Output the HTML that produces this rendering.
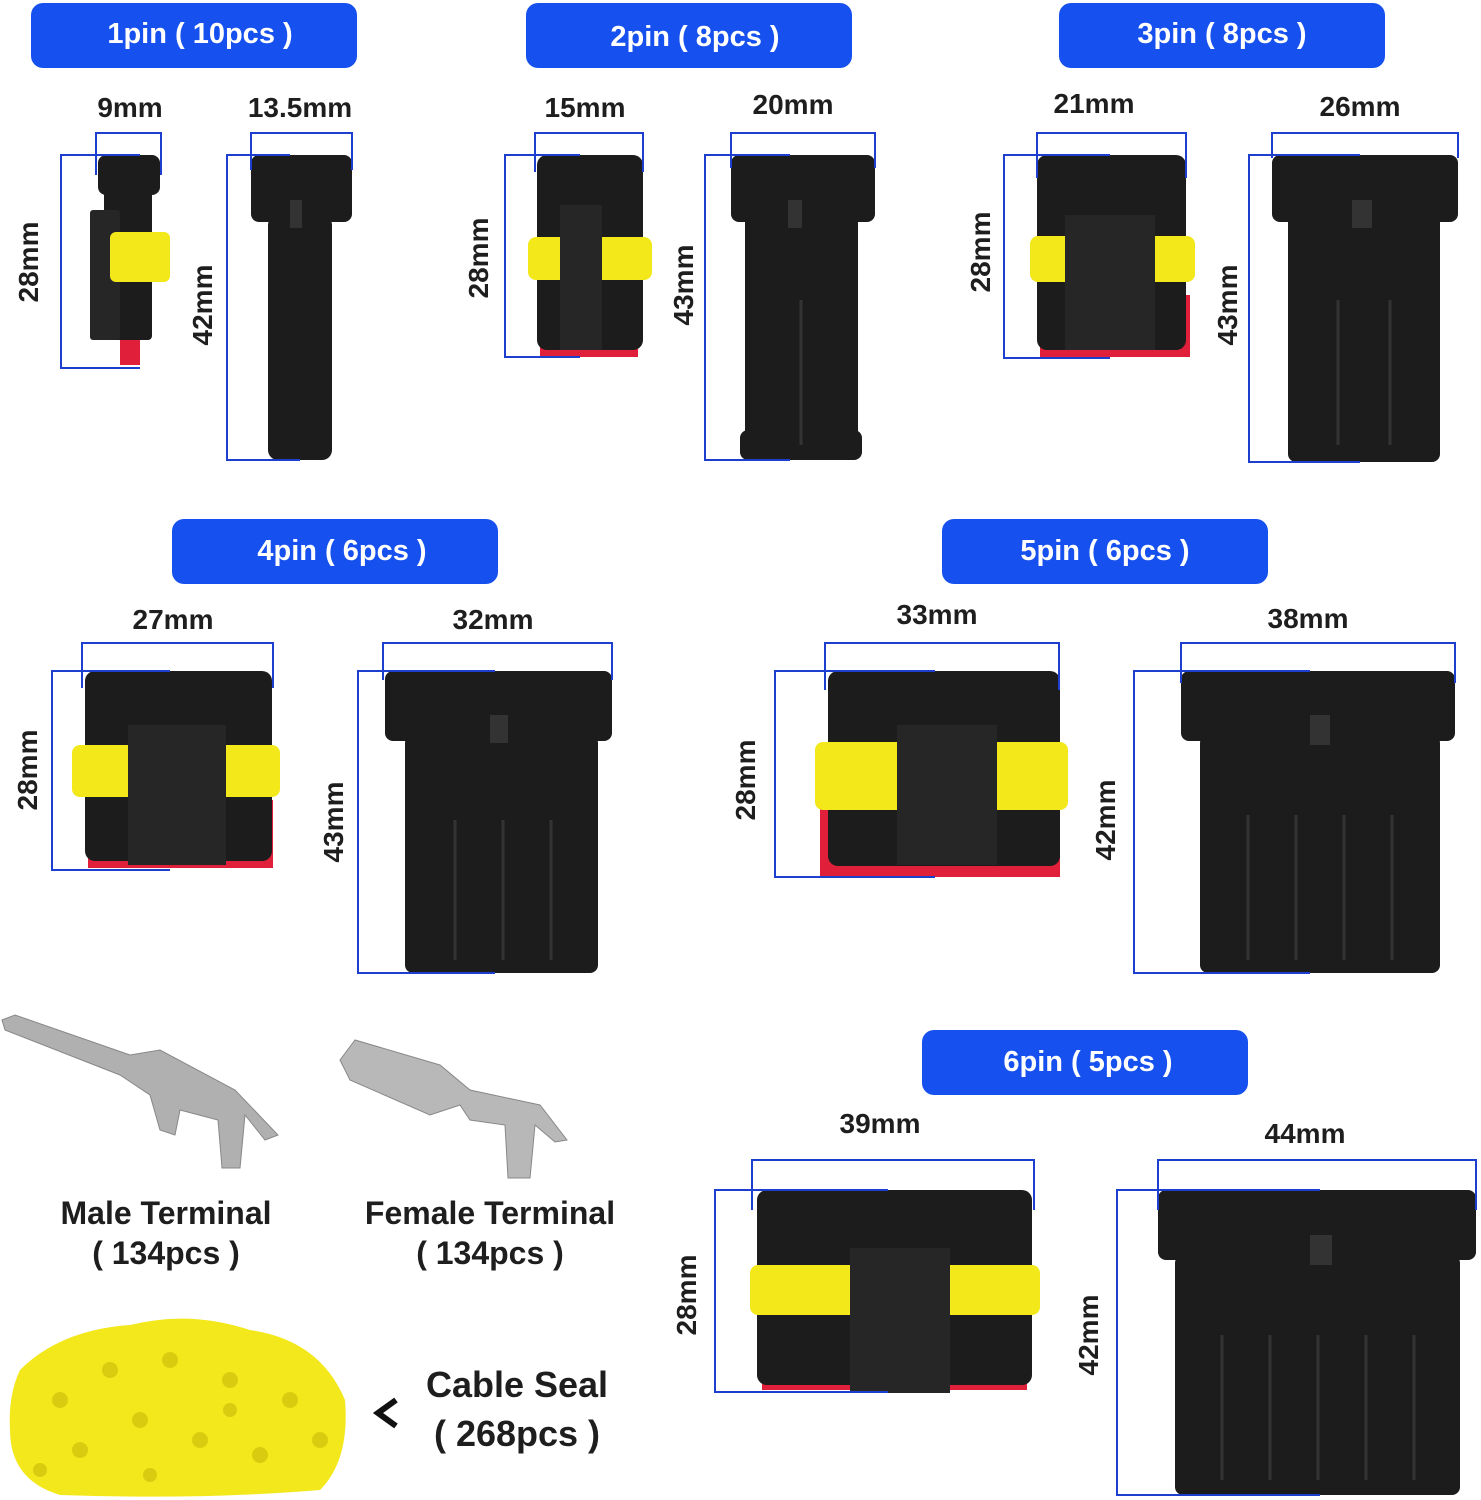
<!DOCTYPE html>
<html><head><meta charset="utf-8"><style>
html,body{margin:0;padding:0;background:#fff}
svg{display:block}
text{font-family:"Liberation Sans",sans-serif;font-weight:bold}
.p{fill:#fff;font-size:29px}
.d{fill:#1e1e1e;font-size:28px}
.t{fill:#1e1e1e;font-size:32px}
.b{fill:none;stroke:#1d3fd0;stroke-width:2}
.k{fill:#1c1c1c}
.k2{fill:#262626}
.y{fill:#f2e81a}
.r{fill:#e0203a}
.g{stroke:#333;stroke-width:3}
</style></head><body>
<svg width="1481" height="1500" viewBox="0 0 1481 1500" xmlns="http://www.w3.org/2000/svg">
<g fill="#1650ee">
<rect x="31" y="3" width="326" height="65" rx="12"/>
<rect x="526" y="3" width="326" height="65" rx="12"/>
<rect x="1059" y="3" width="326" height="65" rx="12"/>
<rect x="172" y="519" width="326" height="65" rx="12"/>
<rect x="942" y="519" width="326" height="65" rx="12"/>
<rect x="922" y="1030" width="326" height="65" rx="12"/>
</g>
<g class="p" text-anchor="middle">
<text x="200" y="43">1pin ( 10pcs )</text>
<text x="695" y="46">2pin ( 8pcs )</text>
<text x="1222" y="43">3pin ( 8pcs )</text>
<text x="342" y="560">4pin ( 6pcs )</text>
<text x="1105" y="560">5pin ( 6pcs )</text>
<text x="1088" y="1071">6pin ( 5pcs )</text>
</g>

<rect class="k" x="98" y="155" width="62" height="40" rx="8"/>
<rect class="k" x="104" y="190" width="48" height="150" rx="4"/>
<rect class="k2" x="90" y="210" width="30" height="130" rx="3"/>
<rect class="y" x="110" y="232" width="60" height="50" rx="6"/>
<rect class="r" x="120" y="340" width="20" height="25"/>
<rect class="k" x="251" y="155" width="101" height="67" rx="8"/>
<rect class="k" x="268" y="215" width="64" height="245" rx="10"/>
<rect class="r" x="540" y="290" width="98" height="67"/>
<rect class="k" x="537" y="155" width="106" height="195" rx="10"/>
<rect class="y" x="528" y="237" width="124" height="43" rx="8"/>
<rect class="k2" x="560" y="205" width="42" height="145"/>
<rect class="k" x="731" y="155" width="144" height="67" rx="8"/>
<rect class="k" x="745" y="215" width="113" height="230" rx="6"/>
<rect class="k" x="740" y="430" width="122" height="30" rx="8"/>
<rect class="r" x="1040" y="295" width="150" height="62"/>
<rect class="k" x="1037" y="155" width="149" height="195" rx="10"/>
<rect class="y" x="1030" y="236" width="165" height="46" rx="8"/>
<rect class="k2" x="1065" y="215" width="90" height="135"/>
<rect class="k" x="1272" y="155" width="186" height="67" rx="8"/>
<rect class="k" x="1288" y="215" width="152" height="247" rx="8"/>
<rect class="r" x="88" y="800" width="185" height="68"/>
<rect class="k" x="85" y="671" width="187" height="190" rx="10"/>
<rect class="y" x="72" y="745" width="208" height="52" rx="8"/>
<rect class="k2" x="128" y="725" width="98" height="140"/>
<rect class="k" x="385" y="671" width="227" height="70" rx="8"/>
<rect class="k" x="405" y="735" width="193" height="238" rx="8"/>
<rect class="r" x="820" y="805" width="240" height="72"/>
<rect class="k" x="828" y="671" width="232" height="195" rx="10"/>
<rect class="y" x="815" y="742" width="253" height="68" rx="8"/>
<rect class="k2" x="897" y="725" width="100" height="140"/>
<rect class="k" x="1181" y="671" width="274" height="70" rx="8"/>
<rect class="k" x="1200" y="735" width="240" height="238" rx="8"/>
<rect class="r" x="762" y="1315" width="265" height="75"/>
<rect class="k" x="757" y="1190" width="275" height="195" rx="10"/>
<rect class="y" x="750" y="1265" width="290" height="50" rx="8"/>
<rect class="k2" x="850" y="1248" width="100" height="145"/>
<rect class="k" x="1158" y="1190" width="318" height="70" rx="8"/>
<rect class="k" x="1175" y="1255" width="285" height="240" rx="8"/>

<!-- grooves on male connectors -->
<g class="g">
<path d="M801 300V445"/>
<path d="M1338 300V445M1390 300V445"/>
<path d="M455 820V960M503 820V960M551 820V960"/>
<path d="M1248 815V960M1296 815V960M1344 815V960M1392 815V960"/>
<path d="M1222 1335V1480M1270 1335V1480M1318 1335V1480M1366 1335V1480M1414 1335V1480"/>
</g>
<g fill="#333">
<rect x="290" y="200" width="12" height="28"/>
<rect x="788" y="200" width="14" height="28"/>
<rect x="1352" y="200" width="20" height="28"/>
<rect x="490" y="715" width="18" height="28"/>
<rect x="1310" y="715" width="20" height="30"/>
<rect x="1310" y="1235" width="22" height="30"/>
</g>

<g class="b">
<path d="M96 175V133H161V175"/><path d="M140 155H61V368H140"/>
<path d="M251 170V133H352V170"/><path d="M290 155H227V460H300"/>
<path d="M535 172V133H643V172"/><path d="M580 155H505V357H580"/>
<path d="M731 168V133H875V168"/><path d="M790 155H705V460H790"/>
<path d="M1037 178V133H1186V178"/><path d="M1110 155H1004V358H1110"/>
<path d="M1272 158V133H1458V158"/><path d="M1360 155H1249V462H1360"/>
<path d="M82 688V643H273V688"/><path d="M170 671H52V870H170"/>
<path d="M383 680V643H612V680"/><path d="M495 671H358V973H495"/>
<path d="M825 690V643H1059V690"/><path d="M935 671H775V877H935"/>
<path d="M1181 683V643H1455V683"/><path d="M1310 671H1134V973H1310"/>
<path d="M752 1210V1160H1034V1210"/><path d="M888 1190H715V1392H888"/>
<path d="M1158 1210V1160H1476V1210"/><path d="M1320 1190H1117V1495H1320"/>
</g>

<g class="d" text-anchor="middle">
<text x="130" y="117">9mm</text>
<text x="300" y="117">13.5mm</text>
<text x="585" y="117">15mm</text>
<text x="793" y="114">20mm</text>
<text x="1094" y="113">21mm</text>
<text x="1360" y="116">26mm</text>
<text x="173" y="629">27mm</text>
<text x="493" y="629">32mm</text>
<text x="937" y="624">33mm</text>
<text x="1308" y="628">38mm</text>
<text x="880" y="1133">39mm</text>
<text x="1305" y="1143">44mm</text>
<text transform="translate(38,262) rotate(-90)">28mm</text>
<text transform="translate(212,305) rotate(-90)">42mm</text>
<text transform="translate(488,258) rotate(-90)">28mm</text>
<text transform="translate(693,285) rotate(-90)">43mm</text>
<text transform="translate(990,252) rotate(-90)">28mm</text>
<text transform="translate(1237,305) rotate(-90)">43mm</text>
<text transform="translate(37,770) rotate(-90)">28mm</text>
<text transform="translate(343,822) rotate(-90)">43mm</text>
<text transform="translate(755,780) rotate(-90)">28mm</text>
<text transform="translate(1115,820) rotate(-90)">42mm</text>
<text transform="translate(696,1295) rotate(-90)">28mm</text>
<text transform="translate(1098,1335) rotate(-90)">42mm</text>
</g>

<path d="M2 1020L15 1015L130 1055L160 1050L235 1090L278 1135L265 1140L245 1115L240 1168L222 1168L218 1120L180 1110L175 1135L160 1130L150 1095L120 1075L5 1030Z" fill="#b0b0b0" stroke="#888" stroke-width="1"/>
<path d="M340 1060L355 1040L440 1065L470 1090L540 1105L567 1140L555 1142L535 1125L530 1178L508 1178L505 1125L470 1120L460 1105L430 1115L350 1080Z" fill="#b8b8b8" stroke="#888" stroke-width="1"/>
<g class="t" text-anchor="middle">
<text x="166" y="1224">Male Terminal</text>
<text x="166" y="1264">( 134pcs )</text>
<text x="490" y="1224">Female Terminal</text>
<text x="490" y="1264">( 134pcs )</text>
<text x="517" y="1397" font-size="36">Cable Seal</text>
<text x="517" y="1446" font-size="36">( 268pcs )</text>
</g>
<path d="M396 1400L378 1413L396 1426" fill="none" stroke="#111" stroke-width="6"/>
<path d="M20 1370Q60 1330 130 1325Q190 1310 250 1330Q320 1340 345 1400Q350 1460 320 1490Q200 1500 60 1495Q10 1480 10 1430Q8 1395 20 1370Z" fill="#f3e81c"/>
<g fill="#d9cc10">
<circle cx="60" cy="1400" r="8"/><circle cx="110" cy="1370" r="8"/><circle cx="170" cy="1360" r="8"/><circle cx="230" cy="1380" r="8"/><circle cx="290" cy="1400" r="8"/>
<circle cx="80" cy="1450" r="8"/><circle cx="140" cy="1420" r="8"/><circle cx="200" cy="1440" r="8"/><circle cx="260" cy="1455" r="8"/><circle cx="320" cy="1440" r="8"/>
<circle cx="40" cy="1470" r="7"/><circle cx="150" cy="1475" r="7"/><circle cx="230" cy="1410" r="7"/>
</g>
</svg>
</body></html>
